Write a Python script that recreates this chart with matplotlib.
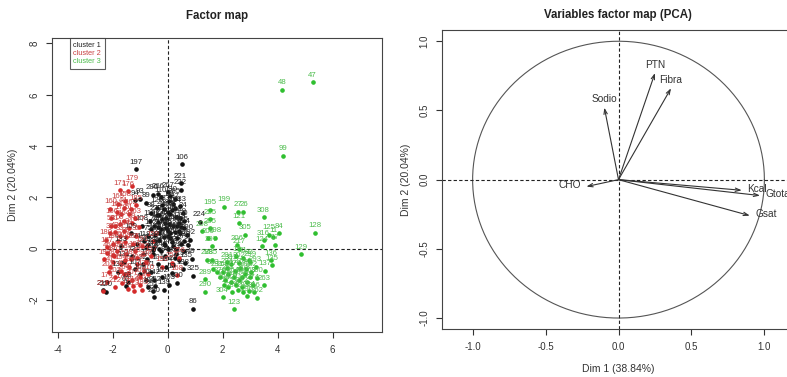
import matplotlib
matplotlib.use("Agg")
import matplotlib.pyplot as plt
from matplotlib.lines import Line2D
import numpy as np

plt.rcParams['font.family'] = ['Liberation Sans', 'DejaVu Sans']
plt.rcParams['axes.unicode_minus'] = False

# ---------------- data: individuals factor map ----------------
c1_x = [-1.14, 0.53, 0.47, 0.47, 0.0, -0.35, -0.55, 0.25, 0.45, 0.55, 1.16, 0.6, 0.7, 0.8, 0.75, 0.6,
        0.87, 0.92, 0.92, 0.34, 0.2, 0.15, -0.48, -0.55, -0.45, -1.52, -2.25, -2.35, -1.45, -0.8, -0.6,
        -0.9, -1.3, -1.1, -0.7, -0.5, -0.3, -0.2, -0.1, 0.0, 0.1, 0.2, 0.3, -0.1, -0.3, -0.45, -0.6,
        -0.8, -1.0, -1.2, 0.35, 0.45, 0.5, 0.15, -0.15, -0.35, -0.2, 0.05, -0.7, -1.0, -1.2, -0.95,
        -1.35, -0.25, 0.05, 0.3, 0.25, -0.05, 0.4, -0.55, -0.75, -0.85, -0.65, -0.4, 0.1, -1.6, -1.8,
        -1.7, 0.6, 0.65, 0.55, -0.15, -0.3, 0.0, -0.5,
        -0.05, 0.2, 0.4, -0.25, -0.45, -0.15, 0.1, 0.35, -0.35, -0.6, 0.0, 0.25, 0.5, -0.2, -0.4,
        0.15, 0.45, -0.1, -0.5, 0.3, -0.3, 0.05, -0.7, 0.2, -0.05, 0.6, -0.25, 0.4, -0.55, 0.1,
        -0.8, -0.35, 0.0, 0.25, -0.15]
c1_y = [3.09, 3.29, 2.56, 2.30, 2.20, 2.15, 2.10, 1.95, 1.65, 1.40, 1.05, 1.1, 0.55, 0.35, 0.15, -0.1,
        -0.39, -1.05, -2.34, -1.32, -0.65, -0.95, -1.89, -1.65, -1.45, -1.46, -1.67, -1.62, -1.3, -1.2, -0.9,
        -0.6, -0.3, 0.2, 0.5, 0.9, 1.3, 1.7, 1.0, 0.7, 0.4, 0.1, -0.2, -0.3, 0.0, 0.3, 1.4,
        1.8, 1.95, 1.9, 0.9, 0.6, 0.2, 1.5, 0.2, -0.6, -1.1, -1.4, -1.5, -1.0, -0.8, 0.9,
        0.6, 2.0, 1.85, 1.25, 0.65, -0.7, -0.45, -0.2, -0.4, 0.3, 1.1, 1.6, 2.05, -0.5, -0.9,
        0.1, 0.8, -0.55, -0.8, -1.6, 0.6, 0.0, -1.2,
        1.2, 0.9, 1.0, 0.75, 0.55, 0.45, 0.6, 0.4, 1.05, 0.75, 1.45, 1.6, 0.85, 1.15, 1.3,
        0.25, 1.2, 0.15, 0.05, 0.0, 0.35, 0.95, 0.15, 1.75, 0.8, 0.3, -0.1, 0.7, -0.05, 1.35,
        0.05, 0.85, 0.5, -0.35, 1.55]
c1_lab = [197, 106, 221, 222, 267, 266, 280, 285, 233, 24, 224, 30, 290, 292, 91, 218,
          49, 325, 86, 300, 27, 17, 250, 251, 252, 62, 220, 219, 63, 70, 71,
          72, 73, 74, 75, 76, 77, 78, 79, 80, 81, 82, 83, 84, 85, 87, 88,
          89, 93, 94, 95, 96, 97, 98, 100, 101, 102, 103, 104, 105, 107, 108,
          109, 110, 111, 112, 113, 114, 115, 116, 117, 118, 119, 120, 130, 131, 132,
          133, 134, 135, 138, 139, 140, 141, 142,
          143, 144, 145, 146, 147, 148, 149, 150, 151, 152, 153, 154, 155, 226, 227,
          228, 229, 230, 231, 232, 234, 235, 236, 237, 238, 239, 240, 241, 242, 243,
          244, 245, 246, 247, 248]

c2_x = [-1.72, -1.30, -1.45, -1.55, -2.08, -1.85, -1.35, -1.2, -1.6, -1.9, -2.1, -1.75, -1.4, -1.15,
        -2.0, -2.2, -1.85, -1.5, -1.2, -0.95, -2.3, -2.0, -1.7, -1.4, -1.1, -0.8, -2.15, -1.9, -1.6,
        -1.3, -1.0, -0.7, -2.36, -1.9, -1.24, -1.25, -1.0, -0.55, -0.6, -0.2, 0.34, 0.4, 0.15, -1.8,
        -2.05, -1.25, -1.55, -1.95, -1.65, -1.45, -2.2, -0.85, -1.05, -1.7, -2.25, -1.35, -0.9, -0.95,
        -1.6, -1.15,
        -1.8, -2.0, -1.5, -1.3, -1.7, -2.1, -1.45, -1.9, -1.6, -1.1, -2.2, -1.75, -1.4, -1.55, -2.05]
c2_y = [2.28, 2.45, 2.25, 1.85, 1.56, 1.45, 1.55, 1.2, 1.1, 0.9, 0.6, 0.5, 0.8, 0.5,
        0.2, 0.05, -0.1, -0.2, -0.1, 0.1, -0.4, -0.5, -0.6, -0.7, -0.6, -0.5, -0.9, -1.1, -1.0,
        -1.2, -1.1, -1.0, -1.63, -1.5, -1.63, -1.45, -1.4, 0.3, -0.3, -0.7, -1.04, -0.35, -0.55, 1.75,
        1.2, 0.2, 0.25, -0.3, -1.35, -1.55, -1.3, -0.85, 0.85, 1.35, 0.35, -0.4, -0.2, -1.6,
        0.7, 1.7,
        0.3, -0.25, 0.45, 1.0, -0.85, -0.7, -0.95, 0.65, 1.6, -0.35, -0.15, 0.95, 1.35, -0.45, 0.9]
c2_lab = [171, 179, 176, 158, 160, 161, 162, 163, 164, 31, 32, 33, 34, 35,
          186, 187, 188, 189, 190, 191, 192, 193, 194, 196, 198, 200, 202, 203, 204,
          207, 209, 210, 211, 212, 213, 214, 215, 159, 157, 156, 168, 256, 257, 165,
          166, 167, 169, 170, 172, 173, 174, 175, 177, 178, 180, 181, 182, 183,
          184, 185,
          36, 37, 38, 39, 40, 41, 42, 43, 44, 45, 46, 50, 51, 52, 53]

c3_x = [5.28, 4.17, 4.21, 5.37, 4.85, 3.49, 1.53, 2.05, 2.55, 2.76, 1.55, 2.6, 1.53, 2.82, 3.7, 3.85,
        4.04, 3.49, 3.9, 3.43, 2.52, 2.6, 1.25, 1.47, 1.73, 1.6, 1.6, 1.43, 2.15, 2.5, 2.96, 2.76,
        3.76, 3.8, 3.55, 1.36, 1.36, 2.4, 3.25, 3.5, 3.25, 2.0, 2.2, 2.4, 2.6, 2.8, 3.0, 2.3,
        2.5, 2.7, 2.9, 3.1, 2.1, 1.9, 2.2, 2.45, 2.65, 2.85, 3.05, 2.75, 2.95, 2.35, 2.55, 1.8,
        3.2, 2.15, 2.05, 2.9, 3.0, 2.3, 2.6, 1.65, 2.0, 3.15, 2.7]
c3_y = [6.50, 6.20, 3.63, 0.62, -0.22, 1.22, 1.52, 1.63, 1.45, 1.44, 1.15, 1.0, 0.8, 0.55, 0.55, 0.45,
        0.6, 0.33, 0.16, 0.1, 0.13, 0.0, 0.68, 0.42, 0.43, 0.1, -0.43, -0.43, -0.53, -0.3, -0.43, -0.35,
        -0.45, -0.65, -0.85, -1.18, -1.67, -2.36, -1.91, -1.43, -1.13, -0.9, -1.0, -1.1, -1.2, -1.0, -1.1, -1.3,
        -1.4, -1.5, -1.3, -1.4, -1.2, -1.1, -1.5, -0.85, -0.75, -0.8, -0.9, -1.7, -1.65, -1.7, -1.6, -0.9,
        -0.7, -0.75, -1.4, -1.85, -0.5, -0.6, -0.55, -0.8, -1.9, -1.7, -1.1]
c3_lab = [47, 48, 99, 128, 129, 308, 195, 199, 27, 26, 225, 121, 205, 305, 125, 11,
          84, 316, 17, 124, 206, 217, 208, 209, 298, 297, 285, 288, 201, 17, 82, 81,
          136, 135, 137, 289, 290, 123, 262, 263, 300, 260, 261, 264, 265, 268, 269, 270,
          271, 272, 273, 274, 275, 276, 277, 278, 279, 281, 282, 283, 284, 286, 287, 291,
          293, 294, 295, 296, 299, 301, 302, 303, 304, 306, 307]

cluster_names = ["cluster 1", "cluster 2", "cluster 3"]
x_ticks_ind = [-4, -2, 0, 2, 4, 6]
y_ticks_ind = [-2, 0, 2, 4, 6, 8]

# ---------------- data: variables factor map ----------------
var_names = ["PTN", "Fibra", "Sodio", "CHO", "Kcal", "Gtotal", "Gsat"]
var_d1 = [0.25, 0.36, -0.097, -0.22, 0.845, 0.97, 0.90]
var_d2 = [0.77, 0.66, 0.52, -0.05, -0.077, -0.115, -0.26]
var_ticks = [-1.0, -0.5, 0.0, 0.5, 1.0]

# ---------------- figure ----------------
fig = plt.figure(figsize=(7.87, 3.77), dpi=100)

pt_colors = ["#111111", "#d42a2a", "#2fbf2f"]
lab_colors = ["#222222", "#c84040", "#4cbc4c"]

ax1 = fig.add_axes([0.066, 0.119, 0.419, 0.780])
for xs, ys, labs, pc, lc in [(c1_x, c1_y, c1_lab, pt_colors[0], lab_colors[0]),
                              (c2_x, c2_y, c2_lab, pt_colors[1], lab_colors[1]),
                              (c3_x, c3_y, c3_lab, pt_colors[2], lab_colors[2])]:
    ax1.plot(xs, ys, linestyle='none', marker='o', markersize=2.3, color=pc, zorder=3)
    for xv, yv, lb in zip(xs, ys, labs):
        ax1.annotate(str(lb), (xv, yv), xytext=(0, 5), textcoords='offset points',
                     ha='center', va='center', fontsize=5.6, color=lc, zorder=4)
ax1.axhline(0, color='#222222', linestyle=(0, (3, 2)), linewidth=0.8, zorder=2)
ax1.axvline(0, color='#222222', linestyle=(0, (3, 2)), linewidth=0.8, zorder=2)
ax1.set_xlim(-4.21, 7.79)
ax1.set_ylim(-3.25, 8.21)
ax1.set_xticks(x_ticks_ind)
ax1.set_xticklabels([str(v) for v in x_ticks_ind])
ax1.set_yticks(y_ticks_ind)
ax1.set_yticklabels([str(v) for v in y_ticks_ind], rotation=90, va='center')
ax1.set_ylabel("Dim 2 (20.04%)", fontsize=7.5, labelpad=8, color='#333333')
fig.text(0.276, 0.958, "Factor map", ha='center', va='center', fontsize=8.3,
         fontweight='bold', color='#222222')
handles = [Line2D([], [], linestyle='none') for _ in cluster_names]
leg = ax1.legend(handles, cluster_names, loc='upper left', bbox_to_anchor=(0.054, 1.0),
                 handlelength=0, handletextpad=0, fontsize=5.3, frameon=True,
                 fancybox=False, borderpad=0.5, labelspacing=0.15,
                 labelcolor=lab_colors, edgecolor='#333333', borderaxespad=0)
leg.get_frame().set_linewidth(0.8)

ax2 = fig.add_axes([0.5616, 0.127, 0.4486, 0.793])
theta = np.linspace(0, 2 * np.pi, 400)
ax2.plot(np.cos(theta), np.sin(theta), color='#555555', linewidth=0.8)
ax2.axhline(0, color='#222222', linestyle=(0, (3, 2)), linewidth=0.8)
ax2.axvline(0, color='#222222', linestyle=(0, (3, 2)), linewidth=0.8)
for name, dx, dy in zip(var_names, var_d1, var_d2):
    ax2.annotate("", xy=(dx, dy), xytext=(0, 0),
                 arrowprops=dict(arrowstyle='->,head_length=0.35,head_width=0.12',
                                 color='#333333', lw=0.8, shrinkA=0, shrinkB=0))
    if dx > 0 and abs(dx) > abs(dy):
        ax2.annotate(name, (dx, dy), xytext=(4, 1), textcoords='offset points',
                     ha='left', va='center', fontsize=7.3, color='#333333')
    elif dx < 0 and abs(dx) > abs(dy):
        ax2.annotate(name, (dx, dy), xytext=(-4, 1), textcoords='offset points',
                     ha='right', va='center', fontsize=7.3, color='#333333')
    else:
        ax2.annotate(name, (dx, dy), xytext=(0, 6), textcoords='offset points',
                     ha='center', va='center', fontsize=7.3, color='#333333')
ax2.set_xlim(-1.21, 1.21)
ax2.set_ylim(-1.08, 1.08)
ax2.set_xticks(var_ticks)
ax2.set_xticklabels([f"{v:.1f}" for v in var_ticks])
ax2.set_yticks(var_ticks)
ax2.set_yticklabels([f"{v:.1f}" for v in var_ticks], rotation=90, va='center')
ax2.set_xlabel("Dim 1 (38.84%)", fontsize=7.5, labelpad=9, color='#333333')
ax2.set_ylabel("Dim 2 (20.04%)", fontsize=7.5, labelpad=6, color='#333333')
fig.text(0.785, 0.960, "Variables factor map (PCA)", ha='center', va='center',
         fontsize=8.3, fontweight='bold', color='#222222')

for ax in (ax1, ax2):
    ax.tick_params(direction='out', length=4, width=0.8, labelsize=7, pad=5,
                   colors='#333333')
    for s in ax.spines.values():
        s.set_linewidth(0.8)
        s.set_color('#444444')

fig.savefig("out.png", dpi=100)
